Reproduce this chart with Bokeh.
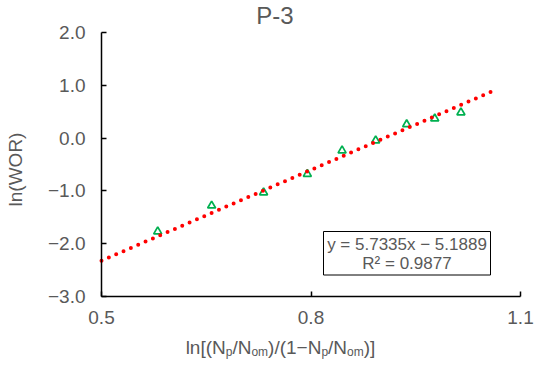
import math
from bokeh.plotting import figure
from bokeh.models import Range1d, FixedTicker, CustomJSTickFormatter, Label, BoxAnnotation
from bokeh.embed import file_html
from bokeh.resources import INLINE

# ---------------- data ----------------
title_text = "P-3"
y_label_text = "ln(WOR)"
x_label_parts = [("ln[(N", False), ("p", True), ("/N", False), ("om", True),
                 (")/(1\u2212N", False), ("p", True), ("/N", False), ("om", True), (")]", False)]
x_vals = [0.5805, 0.6577, 0.7321, 0.7948, 0.8445, 0.8926, 0.9370, 0.9772, 1.0147]
y_vals = [-1.77, -1.28, -1.03, -0.68, -0.235, -0.045, 0.26, 0.37, 0.485]
slope = 5.7335
intercept = -5.1889
r_squared = 0.9877
trend_x = [0.5, 1.063]
x_ticks = [0.5, 0.8, 1.1]
y_ticks = [-3, -2, -1, 0, 1, 2]
eq_line1 = "y = 5.7335x \u2212 5.1889"
eq_line2 = "R\u00b2 = 0.9877"

# ---------------- layout ----------------
W, H = 534, 359
FL, FR, FT, FB = 101, 520, 32, 296      # where the axes sit on the canvas
X0, X1, Y0, Y1 = 0.5, 1.1, -3.0, 2.0
FONT = "Liberation Sans"
GRAY = "#595959"


def dx(cx):
    return X0 + (cx - FL) * (X1 - X0) / (FR - FL)


def dy(cy):
    return Y1 - (cy - FT) * (Y1 - Y0) / (FB - FT)


def label(cx, cy, text, size, **kw):
    return Label(x=dx(cx), y=dy(cy), text=text, text_font=FONT,
                 text_font_size=f"{size}px", text_color=GRAY,
                 text_baseline="middle", **kw)


p = figure(width=W, height=H, output_backend="svg", toolbar_location=None,
           x_range=Range1d(dx(0), dx(W)), y_range=Range1d(dy(H), dy(0)),
           min_border_left=0, min_border_right=0, min_border_top=0, min_border_bottom=0)
p.outline_line_color = None
p.grid.visible = False
p.background_fill_color = "white"
p.border_fill_color = "white"

for ax in (p.xaxis[0], p.yaxis[0]):
    ax.axis_line_color = "black"
    ax.axis_line_width = 1.5
    ax.major_tick_in = 5
    ax.major_tick_out = 0
    ax.major_tick_line_color = "black"
    ax.major_tick_line_width = 1.5
    ax.minor_tick_line_color = None
    ax.major_label_text_font = FONT
    ax.major_label_text_font_size = "19px"
    ax.major_label_text_color = GRAY

p.xaxis.fixed_location = Y0
p.yaxis.fixed_location = X0
p.xaxis.bounds = (X0, X1)
p.yaxis.bounds = (Y0, Y1)
p.xaxis.ticker = FixedTicker(ticks=x_ticks)
p.yaxis.ticker = FixedTicker(ticks=y_ticks)
p.xaxis.formatter = CustomJSTickFormatter(code="return tick.toFixed(1);")
p.yaxis.formatter = CustomJSTickFormatter(
    code="return (tick < -1e-9 ? '\u2212' : '') + Math.abs(tick).toFixed(1);")
p.xaxis.major_label_standoff = 14
p.yaxis.major_label_standoff = 16

# data points
p.scatter(x_vals, y_vals, marker="triangle", size=8, fill_color=None,
          line_color="#00B050", line_width=1.75)

# trendline
trend_y = [slope * x + intercept for x in trend_x]
p.line(trend_x, trend_y, line_color="#FF0000", line_width=4, line_dash="0 8",
       line_cap="round")

# equation box
p.add_layout(BoxAnnotation(left=dx(323), right=dx(490), top=dy(231), bottom=dy(274.5),
                           fill_color="white", fill_alpha=1.0,
                           line_color="black", line_width=1, line_alpha=1.0))
for txt, cy in ((eq_line1, 244), (eq_line2, 262.5)):
    p.add_layout(label(406.5, cy, txt, 17, text_align="center"))

# title
p.add_layout(label(274.5, 14.5, title_text, 24, text_align="center"))

# y axis label (rotated)
p.add_layout(label(15, 169, y_label_text, 19, angle=math.pi / 2, text_align="center"))

# x axis label with subscripts
CW = {'l': 222, 'n': 556, '[': 278, '(': 333, 'N': 722, '/': 278, ')': 333,
      '1': 556, '\u2212': 584, ']': 278, 'p': 556, 'o': 556, 'm': 833}
MAIN, SUB, DROP = 19, 12, 2.5
widths = [sum(CW[c] for c in s) / 1000 * (SUB if sub else MAIN) for s, sub in x_label_parts]
cx = 280 - sum(widths) / 2
base = 352.5
for (s, sub), w in zip(x_label_parts, widths):
    size = SUB if sub else MAIN
    mid = base + (DROP if sub else 0) - 0.31 * size
    p.add_layout(label(cx, mid, s, size, text_align="left"))
    cx += w

open("out.html", "w").write(file_html(p, INLINE))
